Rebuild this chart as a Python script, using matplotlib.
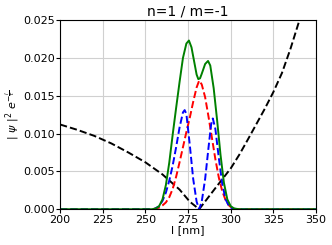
import matplotlib
matplotlib.use('Agg')
import matplotlib.pyplot as plt

# black dashed curve (two branches meeting at the minimum)
pot_x = [200, 210, 220, 230, 240, 250, 260, 270, 276, 281.5,
         290, 300, 305, 310, 320, 325, 330, 335, 340, 345]
pot_y = [0.0112, 0.0105, 0.0097, 0.0087, 0.0075, 0.0062, 0.0046, 0.0026, 0.0010, 0.0,
         0.0025, 0.0054, 0.0072, 0.0092, 0.0133, 0.0155, 0.0180, 0.0212, 0.0248, 0.0288]

# red dashed
red_x = [200, 254, 256, 258, 260, 262, 264, 266, 268, 270, 272, 274, 276, 278, 280, 281.5,
         283, 285, 287, 289, 291, 293, 295, 297, 299, 301, 303, 350]
red_y = [0.0, 0.0, 0.0001, 0.0002, 0.0005, 0.0009, 0.0016, 0.0027, 0.0043, 0.0062, 0.0082,
         0.0102, 0.0121, 0.0142, 0.0161, 0.0170,
         0.0165, 0.0148, 0.0122, 0.0094, 0.0066, 0.0042, 0.0024, 0.0012, 0.0005, 0.0001, 0.0, 0.0]

# blue dashed
blue_x = [200, 255, 258, 260, 262, 264, 266, 268, 270, 272, 273, 274, 276, 278, 280, 281.5,
          283, 285, 287, 288.5, 289.5, 291, 293, 295, 297, 299, 301, 304, 350]
blue_y = [0.0, 0.0, 0.0004, 0.0011, 0.0022, 0.0038, 0.0058, 0.0082, 0.0108, 0.0128, 0.0131,
          0.0126, 0.0085, 0.0040, 0.0010, 0.0,
          0.0010, 0.0040, 0.0082, 0.0112, 0.0120, 0.0106, 0.0068, 0.0034, 0.0013, 0.0004, 0.0001, 0.0, 0.0]

# green solid
green_x = [200, 254, 256, 258, 260, 262, 264, 266, 268, 270, 272, 274, 275.5, 277, 279, 280,
           281, 282, 283, 285, 286.7, 288, 290, 292, 294, 296, 298, 300, 302, 305, 350]
green_y = [0.0, 0.0, 0.0001, 0.0004, 0.0013, 0.0032, 0.0062, 0.0099, 0.0134, 0.0168, 0.0200,
           0.0219, 0.0223, 0.0214, 0.0190, 0.0178,
           0.0172, 0.0173, 0.0179, 0.0192, 0.0196, 0.0190, 0.0160, 0.0118, 0.0072, 0.0035,
           0.0013, 0.0004, 0.0001, 0.0, 0.0]

fig = plt.figure(figsize=(3.32, 2.45), dpi=100)
ax = fig.add_axes([0.181, 0.146, 0.771, 0.772])

ax.plot(pot_x, pot_y, 'k--', lw=1.4)
ax.plot(red_x, red_y, 'r--', lw=1.4)
ax.plot(blue_x, blue_y, 'b--', lw=1.4)
ax.plot(green_x, green_y, color='green', lw=1.4)

ax.set_xlim(200, 350)
ax.set_ylim(0, 0.025)
ax.set_xticks([200, 225, 250, 275, 300, 325, 350])
ax.set_yticks([0, 0.005, 0.010, 0.015, 0.020, 0.025])
ax.set_yticklabels(['0.000', '0.005', '0.010', '0.015', '0.020', '0.025'])
ax.tick_params(labelsize=8, length=3, pad=1)
ax.grid(True, color='#d0d0d0', lw=0.8)
ax.set_axisbelow(True)

ax.set_title('n=1 / m=-1', fontsize=10, pad=3)
ax.set_xlabel('l [nm]', fontsize=8, labelpad=0)
ax.set_ylabel(r'$|\ \psi\ |^2\ e^{-\frac{l}{\tau}}$', fontsize=8, labelpad=1)

plt.savefig('out.png', dpi=100)
